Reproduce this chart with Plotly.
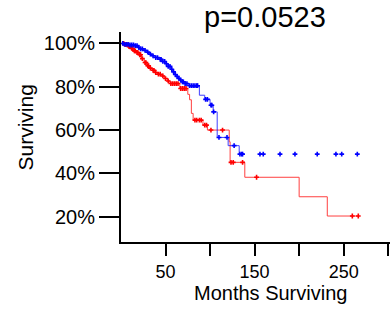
import plotly.graph_objects as go
import numpy as np

# Blue group: step events (months, survival after event)
blue_time = [0, 3, 9, 15, 19, 22, 25, 28, 31, 34, 38, 42, 46, 50, 53, 56, 58, 60, 62, 64, 66, 69, 72, 76,
             88, 94, 100, 103.5, 108, 120.3, 132.7, 137]
blue_surv = [1.0, 0.996, 0.993, 0.99, 0.982, 0.975, 0.968, 0.96, 0.951, 0.943, 0.935, 0.927, 0.917, 0.906,
             0.894, 0.881, 0.869, 0.857, 0.848, 0.839, 0.831, 0.823, 0.815, 0.805,
             0.761, 0.742, 0.715, 0.684, 0.566, 0.528, 0.489, 0.489]
blue_censor = [2, 4, 6, 8, 10, 12, 14, 16, 18, 20, 22, 24, 27, 30, 33, 36, 39, 41, 44, 45, 47, 49, 51, 53,
               55, 57, 59, 61, 63, 65, 67, 69, 70, 72, 74, 77, 79, 81, 83, 85, 86,
               95, 97, 101, 102, 104, 110, 119, 127, 133.5, 135.5, 136.5,
               156, 159.7, 178.5, 195.3, 220.3, 241.3, 247.8, 265.3]

# Red group
red_time = [0, 4, 8, 11, 14, 17, 20, 23, 26, 29, 32, 35, 38, 41, 45, 49, 52, 55, 66, 75, 77, 79, 81,
            92, 97, 121.5, 122.5, 139, 200, 231.6, 267]
red_surv = [1.0, 0.995, 0.985, 0.977, 0.966, 0.958, 0.948, 0.93, 0.912, 0.897, 0.886, 0.876, 0.866,
            0.858, 0.85, 0.838, 0.827, 0.815, 0.792, 0.765, 0.74, 0.677, 0.646,
            0.623, 0.60, 0.546, 0.451, 0.382, 0.292, 0.203, 0.203]
red_censor = [3, 5, 7, 9, 10, 12, 13, 15, 16, 18, 19, 21, 22, 24, 27, 28, 30, 31, 33, 36, 37, 39, 42,
              44, 47, 50, 53, 56, 58, 60, 62, 64, 67, 69, 71, 73,
              83, 85, 88, 90, 94, 96, 101, 114, 123.5, 126, 136.5, 152.2, 259.7, 266.4]

x_ticks = [50, 100, 150, 200, 250, 300]
x_ticktext = ["50", "", "150", "", "250", ""]
y_ticks = [0.2, 0.4, 0.6, 0.8, 1.0]
y_ticktext = ["20%", "40%", "60%", "80%", "100%"]
title_text = "p=0.0523"


def step_at(times, survs, t):
    idx = np.searchsorted(np.array(times), t, side="right") - 1
    return survs[max(idx, 0)]


fig = go.Figure()
for times, survs, cens, col in [(red_time, red_surv, red_censor, "#ff0000"),
                                (blue_time, blue_surv, blue_censor, "#0000ff")]:
    fig.add_trace(go.Scatter(x=times, y=survs, mode="lines", opacity=0.75,
                             line=dict(color=col, width=1, shape="hv"),
                             hoverinfo="skip", showlegend=False))
    fig.add_trace(go.Scatter(x=cens, y=[step_at(times, survs, t) for t in cens], mode="markers",
                             marker=dict(symbol="cross", size=4, color=col, line=dict(width=0)),
                             showlegend=False))

font = "Liberation Sans, Arial, sans-serif"
fig.update_layout(
    width=391, height=312,
    margin=dict(l=121, r=1, t=32, b=70),
    paper_bgcolor="white", plot_bgcolor="white",
    font=dict(family=font, color="black", size=20),
    xaxis=dict(range=[0, 302], tickvals=x_ticks, ticktext=x_ticktext, ticks="outside", ticklen=12,
               tickwidth=2, tickcolor="black", showline=True, linewidth=2, linecolor="black",
               showgrid=False, zeroline=False, tickfont=dict(size=18), automargin=False),
    yaxis=dict(range=[0.083, 1.053], tickvals=y_ticks, ticktext=y_ticktext, ticks="outside", ticklen=20,
               tickwidth=2, tickcolor="black", showline=True, linewidth=2, linecolor="black",
               showgrid=False, zeroline=False, tickfont=dict(size=20), automargin=False),
    annotations=[
        dict(text=title_text, xref="paper", yref="paper", x=(264.5 - 121) / 269, y=(312 - 70 - 17) / 210,
             xanchor="center", yanchor="middle", showarrow=False, font=dict(size=29)),
        dict(text="Months Surviving", xref="paper", yref="paper", x=(270 - 121) / 269,
             y=-(293 - 242) / 210, xanchor="center", yanchor="middle", showarrow=False,
             font=dict(size=20)),
        dict(text="Surviving", xref="paper", yref="paper", x=-(121 - 25) / 269,
             y=(242 - 127.5) / 210, xanchor="center", yanchor="middle", showarrow=False,
             textangle=-90, font=dict(size=21)),
    ],
)

fig.write_html("out.html", config={"displayModeBar": False},
               post_script="document.body.style.margin='0';document.body.style.overflow='hidden';")
